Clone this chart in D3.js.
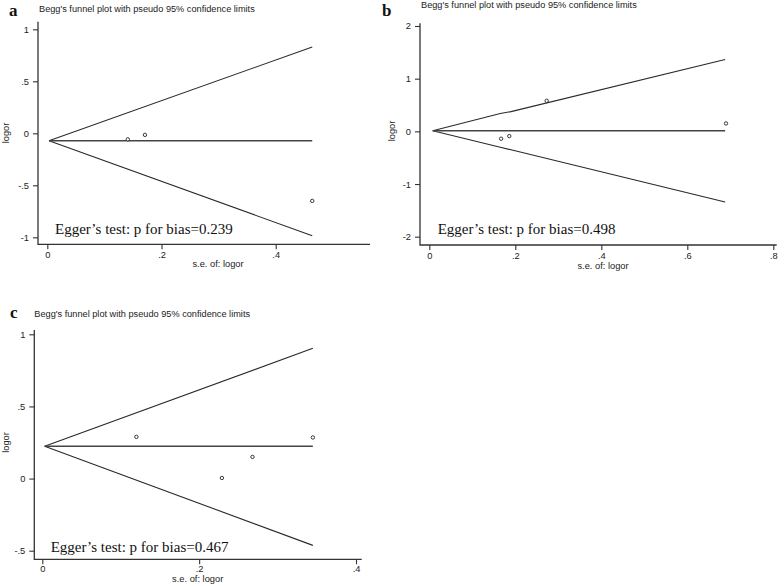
<!DOCTYPE html>
<html>
<head>
<meta charset="utf-8">
<script src="https://cdn.jsdelivr.net/npm/d3@7"></script>
<style>
    body { margin: 0; background: #fff; }
    svg { display: block; }
    .tick text, .ax-title, .plot-title { font-family: "Liberation Sans", Arial, sans-serif; fill: #222; }
    .egger { font-family: "Liberation Serif", "Times New Roman", serif; fill: #111; }
    .letter { font-family: "Liberation Serif", "Times New Roman", serif; font-weight: bold; fill: #111; }
</style>
</head>
<body>
<svg id="chart" width="784" height="586"></svg>
<script>
// ---- data ----
var panelLetters = ["a", "b", "c"];
var eggerP = ["0.239", "0.498", "0.467"];
var plotTitle = "Begg's funnel plot with pseudo 95% confidence limits";
var xTitle = "s.e. of: logor";
var yTitle = "logor";

// panel a
var seA = [0.141, 0.171, 0.464];
var logorA = [-0.058, -0.015, -0.65];
var pooledA = -0.072;
var funnelSeA = [0.003, 0.464];
var upperA = [-0.072, 0.83];
var lowerA = [-0.072, -0.985];
var xTicksA = [0, 0.2, 0.4];
var yTicksA = [-1, -0.5, 0, 0.5, 1];

// panel b
var seB = [0.167, 0.186, 0.273, 0.69];
var logorB = [-0.14, -0.09, 0.58, 0.15];
var pooledB = 0.01;
var funnelSeB = [0.008, 0.165, 0.19, 0.688];
var upperB = [0.01, 0.34, 0.375, 1.365];
var lowerB = [0.01, -0.302, -0.351, -1.34];
var xTicksB = [0, 0.2, 0.4, 0.6, 0.8];
var yTicksB = [-2, -1, 0, 1, 2];

// panel c
var seC = [0.12, 0.229, 0.268, 0.345];
var logorC = [0.289, 0.004, 0.15, 0.285];
var pooledC = 0.224;
var funnelSeC = [0.003, 0.345];
var upperC = [0.224, 0.903];
var lowerC = [0.224, -0.463];
var xTicksC = [0, 0.2, 0.4];
var yTicksC = [-0.5, 0, 0.5, 1];

// ---- layout (pixel boxes of each panel) ----
var layouts = [
    {left: 38, right: 370, top: 21.7, bottom: 244.3, xr: [47.3, 275.7], yr: [237.3, 29.3], xpad: 2.5,
     title: [39, 12], letter: [9, 15.5], xt: [218, 267], yt: [8.5, 133], egger: [55, 234.3]},
    {left: 420, right: 776.7, top: 23.3, bottom: 245, xr: [429.3, 773.3], yr: [236.7, 26], xpad: 2.5,
     title: [421, 8.3], letter: [382, 16], xt: [603, 268.5], yt: [395, 131], egger: [437.7, 234]},
    {left: 34.3, right: 361.7, top: 330, bottom: 559.3, xr: [42.3, 356], yr: [550.7, 334.3], xpad: 1,
     title: [34.3, 316.5], letter: [10, 317.5], xt: [197.7, 582], yt: [8.5, 442.5], egger: [50.7, 551.5]}
];

var panels = [
    {se: seA, logor: logorA, pooled: pooledA, fse: funnelSeA, up: upperA, lo: lowerA, xt: xTicksA, yt: yTicksA},
    {se: seB, logor: logorB, pooled: pooledB, fse: funnelSeB, up: upperB, lo: lowerB, xt: xTicksB, yt: yTicksB},
    {se: seC, logor: logorC, pooled: pooledC, fse: funnelSeC, up: upperC, lo: lowerC, xt: xTicksC, yt: yTicksC}
];

var svg = d3.select("#chart");
svg.append("rect").attr("width", 784).attr("height", 586).attr("fill", "#fff");

// stata style numbers: .5, -.5, 0
function stataFmt(v) {
    if (v === 0) return "0";
    return String(+v.toFixed(2)).replace(/^(-?)0\./, "$1.");
}

panels.forEach(function(p, i) {
    var L = layouts[i];
    var g = svg.append("g");

    var x = d3.scaleLinear().domain([0, d3.max(p.xt)]).range(L.xr);
    var y = d3.scaleLinear().domain(d3.extent(p.yt)).range(L.yr);

    // axis lines
    g.append("path")
        .attr("d", "M" + L.left + "," + L.top + "V" + L.bottom + "H" + L.right)
        .attr("fill", "none")
        .attr("stroke", "#333")
        .attr("stroke-width", 1.3);

    var ya = g.append("g")
        .attr("transform", "translate(" + L.left + ",0)")
        .call(d3.axisLeft(y).tickValues(p.yt).tickFormat(stataFmt).tickSize(5).tickPadding(4));
    var xa = g.append("g")
        .attr("transform", "translate(0," + L.bottom + ")")
        .call(d3.axisBottom(x).tickValues(p.xt).tickFormat(stataFmt).tickSize(5).tickPadding(L.xpad));

    [ya, xa].forEach(function(a) {
        a.select(".domain").remove();
        a.selectAll(".tick line").attr("stroke", "#333").attr("stroke-width", 1.1);
        a.selectAll(".tick text").style("font-size", "9.3px");
    });

    var line = d3.line()
        .x(function(d) { return x(d[0]); })
        .y(function(d) { return y(d[1]); });

    // pseudo confidence limits
    g.append("path")
        .attr("d", line(d3.zip(p.fse, p.up)))
        .attr("fill", "none").attr("stroke", "#2a2a2a").attr("stroke-width", 1.1);
    g.append("path")
        .attr("d", line(d3.zip(p.fse, p.lo)))
        .attr("fill", "none").attr("stroke", "#2a2a2a").attr("stroke-width", 1.1);

    // pooled estimate
    g.append("path")
        .attr("d", line([[p.fse[0], p.pooled], [p.fse[p.fse.length - 1], p.pooled]]))
        .attr("fill", "none").attr("stroke", "#444").attr("stroke-width", 1.5);

    // studies
    g.selectAll("circle.study")
        .data(d3.zip(p.se, p.logor))
        .enter()
        .append("circle")
        .attr("class", "study")
        .attr("cx", function(d) { return x(d[0]); })
        .attr("cy", function(d) { return y(d[1]); })
        .attr("r", 1.7)
        .attr("fill", "#fff")
        .attr("stroke", "#222")
        .attr("stroke-width", 0.9);

    // texts
    g.append("text").attr("class", "plot-title")
        .attr("x", L.title[0]).attr("y", L.title[1])
        .style("font-size", "9.2px")
        .text(plotTitle);

    g.append("text").attr("class", "letter")
        .attr("x", L.letter[0]).attr("y", L.letter[1])
        .style("font-size", "17px")
        .text(panelLetters[i]);

    g.append("text").attr("class", "ax-title")
        .attr("x", L.xt[0]).attr("y", L.xt[1])
        .attr("text-anchor", "middle")
        .style("font-size", "9.3px")
        .text(xTitle);

    g.append("text").attr("class", "ax-title")
        .attr("transform", "translate(" + L.yt[0] + "," + L.yt[1] + ") rotate(-90)")
        .attr("text-anchor", "middle")
        .style("font-size", "9.3px")
        .text(yTitle);

    g.append("text").attr("class", "egger")
        .attr("x", L.egger[0]).attr("y", L.egger[1])
        .style("font-size", "15px")
        .text("Egger\u2019s test: p for bias=" + eggerP[i]);
});
</script>
</body>
</html>
